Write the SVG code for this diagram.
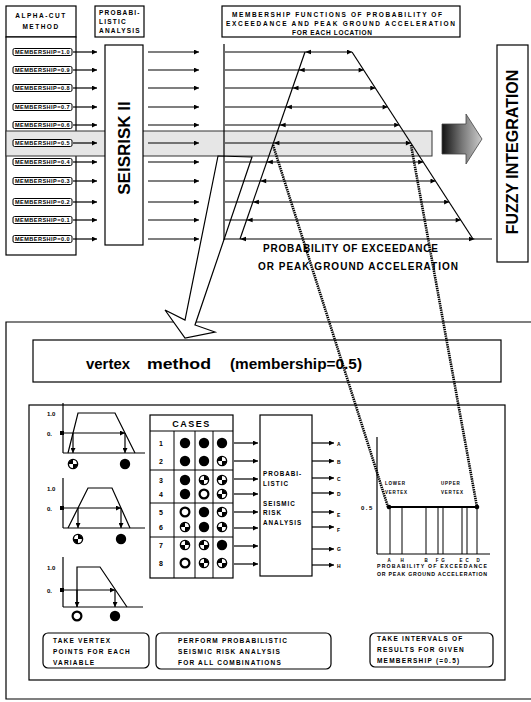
<svg xmlns="http://www.w3.org/2000/svg" width="531" height="702" viewBox="0 0 531 702">
<style>
text{font-family:"Liberation Sans",Arial,sans-serif;font-weight:bold;fill:#000}
.box{fill:#fff;stroke:#000;stroke-width:1.2}
.ln{stroke:#000;stroke-width:1.2;fill:none}
.thin{stroke:#000;stroke-width:1;fill:none}
.arr{stroke:#000;stroke-width:1.2;marker-end:url(#ah)}
.t65{font-size:6.5px;letter-spacing:1.2px}
.tiny{font-size:5px;letter-spacing:0.4px}
.item{fill:#fff;stroke:#000;stroke-width:1}
.dot{stroke:#000;stroke-width:2.6;stroke-dasharray:1.4 0.8;fill:none}
</style>
<defs>
<marker id="ah" viewBox="0 0 10 10" refX="10" refY="5" markerWidth="6" markerHeight="5" markerUnits="userSpaceOnUse" orient="auto"><path d="M0,0 L10,5 L0,10 z"/></marker>
<linearGradient id="fz" x1="0" y1="0" x2="1" y2="0"><stop offset="0" stop-color="#111"/><stop offset="0.5" stop-color="#777"/><stop offset="1" stop-color="#ccc"/></linearGradient>
<g id="cf"><circle r="5.2" fill="#000"/></g>
<g id="co"><circle r="4.4" fill="#fff" stroke="#000" stroke-width="2.2"/></g>
<g id="cp"><circle r="4.6" fill="#fff" stroke="#000" stroke-width="1.4"/><path d="M0,0 L4.6,0 A4.6,4.6 0 0 1 0,4.6 Z M0,0 L-4.6,0 A4.6,4.6 0 0 1 0,-4.6 Z"/></g>
<g id="cq"><circle r="4.6" fill="#fff" stroke="#000" stroke-width="1.4"/><path d="M0,0 L0,-4.6 A4.6,4.6 0 0 1 4.6,0 Z M0,0 L0,4.6 A4.6,4.6 0 0 1 -4.6,0 Z"/></g>
</defs>

<!-- top headers -->
<g id="alpha-cut">
<rect class="box" x="6" y="6" width="70" height="31"/>
<text x="41" y="18" text-anchor="middle" style="font-size:6.5px;letter-spacing:1.5px">ALPHA-CUT</text>
<text x="41" y="29" text-anchor="middle" style="font-size:6.5px;letter-spacing:1.5px">METHOD</text>
<rect class="box" x="6" y="37" width="70" height="218"/>
</g>
<g id="prob-analysis">
<rect class="box" x="95" y="6" width="49" height="31"/>
<text x="99" y="15" class="t65">PROBABI-</text>
<text x="99" y="24" class="t65">LISTIC</text>
<text x="99" y="33" class="t65">ANALYSIS</text>
</g>
<g id="membership-header">
<rect class="box" x="222" y="6" width="238" height="31"/>
<text x="232" y="16.5" style="font-size:6.5px" textLength="210" lengthAdjust="spacing">MEMBERSHIP FUNCTIONS OF PROBABILITY OF</text>
<text x="226" y="25.5" style="font-size:6.5px" textLength="229" lengthAdjust="spacing">EXCEEDANCE AND PEAK GROUND ACCELERATION</text>
<text x="292" y="34.5" style="font-size:6.5px" textLength="80" lengthAdjust="spacing">FOR EACH LOCATION</text>
</g>

<!-- highlighted band -->
<g id="band">
<rect x="6" y="131" width="426" height="25" fill="#e6e6e6" stroke="#333" stroke-width="1"/>
</g>

<g id="seisrisk">
<rect class="box" x="105" y="45" width="38" height="200"/>
<text transform="translate(130,148) rotate(-90)" text-anchor="middle" style="font-size:17px">SEISRISK II</text>
</g>

<g id="alpha-items">
<rect class="item" x="13" y="48.5" width="59" height="7" rx="1.5"/><text x="15" y="54" class="tiny" textLength="55" lengthAdjust="spacingAndGlyphs">MEMBERSHIP=1.0</text>
<rect class="item" x="13" y="66.5" width="59" height="7" rx="1.5"/><text x="15" y="72" class="tiny" textLength="55" lengthAdjust="spacingAndGlyphs">MEMBERSHIP=0.9</text>
<rect class="item" x="13" y="84.5" width="59" height="7" rx="1.5"/><text x="15" y="90" class="tiny" textLength="55" lengthAdjust="spacingAndGlyphs">MEMBERSHIP=0.8</text>
<rect class="item" x="13" y="103.5" width="59" height="7" rx="1.5"/><text x="15" y="109" class="tiny" textLength="55" lengthAdjust="spacingAndGlyphs">MEMBERSHIP=0.7</text>
<rect class="item" x="13" y="121.5" width="59" height="7" rx="1.5"/><text x="15" y="127" class="tiny" textLength="55" lengthAdjust="spacingAndGlyphs">MEMBERSHIP=0.6</text>
<rect class="item" x="13" y="139.5" width="59" height="7" rx="1.5"/><text x="15" y="145" class="tiny" textLength="55" lengthAdjust="spacingAndGlyphs">MEMBERSHIP=0.5</text>
<rect class="item" x="13" y="158.5" width="59" height="7" rx="1.5"/><text x="15" y="164" class="tiny" textLength="55" lengthAdjust="spacingAndGlyphs">MEMBERSHIP=0.4</text>
<rect class="item" x="13" y="177.5" width="59" height="7" rx="1.5"/><text x="15" y="183" class="tiny" textLength="55" lengthAdjust="spacingAndGlyphs">MEMBERSHIP=0.3</text>
<rect class="item" x="13" y="198.5" width="59" height="7" rx="1.5"/><text x="15" y="204" class="tiny" textLength="55" lengthAdjust="spacingAndGlyphs">MEMBERSHIP=0.2</text>
<rect class="item" x="13" y="216.5" width="59" height="7" rx="1.5"/><text x="15" y="222" class="tiny" textLength="55" lengthAdjust="spacingAndGlyphs">MEMBERSHIP=0.1</text>
<rect class="item" x="13" y="235.5" width="59" height="7" rx="1.5"/><text x="15" y="241" class="tiny" textLength="55" lengthAdjust="spacingAndGlyphs">MEMBERSHIP=0.0</text>
</g>

<g id="fuzzy">
<polygon points="442,124 466,124 466,114 482,139 466,164 466,154 442,154" fill="url(#fz)" stroke="#444" stroke-width="0.8"/>
<rect class="box" x="497" y="45" width="31" height="217"/>
<text transform="translate(518,152) rotate(-90)" text-anchor="middle" style="font-size:16px">FUZZY INTEGRATION</text>
</g>

<!-- lower frames -->
<g id="vertex-frame">
<path class="ln" d="M531,322 H6 V699 H531"/>
<rect class="box" x="33" y="340" width="468" height="42"/>
<text x="86" y="369" style="font-size:15px" textLength="44" lengthAdjust="spacingAndGlyphs">vertex</text>
<text x="147" y="369" style="font-size:15px" textLength="64" lengthAdjust="spacingAndGlyphs">method</text>
<text x="230" y="369" style="font-size:15px" textLength="132" lengthAdjust="spacingAndGlyphs">(membership=0.5)</text>
<rect class="box" x="29" y="405" width="476" height="275"/>
</g>

<g id="zoom-arrow">
<polygon points="218,156 185,320 165,310 185,338 215,332 195,325 252,157" fill="#fff" stroke="#000" stroke-width="1.2" stroke-linejoin="miter"/>
</g>

<!-- connectors -->
<g id="connectors">
<line class="arr" x1="73" y1="52" x2="97" y2="52"/>
<line class="arr" x1="73" y1="70" x2="97" y2="70"/>
<line class="arr" x1="73" y1="88" x2="97" y2="88"/>
<line class="arr" x1="73" y1="107" x2="97" y2="107"/>
<line class="arr" x1="73" y1="125" x2="97" y2="125"/>
<line class="arr" x1="73" y1="143" x2="97" y2="143"/>
<line class="arr" x1="73" y1="162" x2="97" y2="162"/>
<line class="arr" x1="73" y1="181" x2="97" y2="181"/>
<line class="arr" x1="73" y1="202" x2="97" y2="202"/>
<line class="arr" x1="73" y1="220" x2="97" y2="220"/>
<line class="arr" x1="73" y1="239" x2="97" y2="239"/>
<line class="arr" x1="148" y1="52" x2="199" y2="52"/>
<line class="arr" x1="148" y1="70" x2="199" y2="70"/>
<line class="arr" x1="148" y1="88" x2="199" y2="88"/>
<line class="arr" x1="148" y1="107" x2="199" y2="107"/>
<line class="arr" x1="148" y1="125" x2="199" y2="125"/>
<line class="arr" x1="148" y1="143" x2="199" y2="143"/>
<line class="arr" x1="148" y1="162" x2="199" y2="162"/>
<line class="arr" x1="148" y1="181" x2="199" y2="181"/>
<line class="arr" x1="148" y1="202" x2="199" y2="202"/>
<line class="arr" x1="148" y1="220" x2="199" y2="220"/>
<line class="arr" x1="148" y1="239" x2="199" y2="239"/>

<line class="arr" x1="234" y1="443" x2="258" y2="443"/>
<line class="arr" x1="234" y1="461" x2="258" y2="461"/>
<line class="arr" x1="234" y1="479" x2="258" y2="479"/>
<line class="arr" x1="234" y1="494" x2="258" y2="494"/>
<line class="arr" x1="234" y1="512" x2="258" y2="512"/>
<line class="arr" x1="234" y1="528" x2="258" y2="528"/>
<line class="arr" x1="234" y1="546" x2="258" y2="546"/>
<line class="arr" x1="234" y1="564" x2="258" y2="564"/>

<line class="arr" x1="312" y1="443" x2="334" y2="443"/>
<line class="arr" x1="312" y1="461" x2="334" y2="461"/>
<line class="arr" x1="312" y1="478" x2="334" y2="478"/>
<line class="arr" x1="312" y1="493" x2="334" y2="493"/>
<line class="arr" x1="312" y1="512" x2="334" y2="512"/>
<line class="arr" x1="312" y1="527" x2="334" y2="527"/>
<line class="arr" x1="312" y1="549" x2="334" y2="549"/>
<line class="arr" x1="312" y1="565" x2="334" y2="565"/>
</g>

<!-- top membership chart -->
<g id="membership-chart">
<line class="ln" x1="224" y1="44" x2="224" y2="240"/>
<line class="arr" x1="225" y1="52" x2="352" y2="52"/>
<line class="arr" x1="225" y1="70" x2="363.6" y2="70"/>
<line class="arr" x1="225" y1="88" x2="375.3" y2="88"/>
<line class="arr" x1="225" y1="107" x2="387.6" y2="107"/>
<line class="arr" x1="225" y1="125" x2="399.2" y2="125"/>
<line class="arr" x1="225" y1="143" x2="410.9" y2="143"/>
<line class="arr" x1="225" y1="162" x2="423.2" y2="162"/>
<line class="arr" x1="225" y1="181" x2="435.5" y2="181"/>
<line class="arr" x1="225" y1="202" x2="449.1" y2="202"/>
<line class="arr" x1="225" y1="220" x2="460.7" y2="220"/>
<line class="ln" x1="224" y1="239" x2="492" y2="239"/>
<path d="M469,236.8 L475,239 L469,241.2 Z"/>
<g fill="#000">
<path d="M305,52 l6,-2.2 v4.4 z"/>
<path d="M298.7,70 l6,-2.2 v4.4 z"/>
<path d="M292.5,88 l6,-2.2 v4.4 z"/>
<path d="M285.9,107 l6,-2.2 v4.4 z"/>
<path d="M279.6,125 l6,-2.2 v4.4 z"/>
<path d="M273.4,143 l6,-2.2 v4.4 z"/>
<path d="M266.8,162 l6,-2.2 v4.4 z"/>
<path d="M260.2,181 l6,-2.2 v4.4 z"/>
<path d="M252.9,202 l6,-2.2 v4.4 z"/>
<path d="M246.6,220 l6,-2.2 v4.4 z"/>
<path d="M240,239 l6,-2.2 v4.4 z"/>
</g>
<line class="ln" x1="305" y1="52" x2="240" y2="239"/>
<line class="ln" x1="352" y1="52" x2="473" y2="239"/>
<text x="263" y="252" style="font-size:10px" textLength="175" lengthAdjust="spacing">PROBABILITY OF EXCEEDANCE</text>
<text x="258" y="270" style="font-size:10px" textLength="200" lengthAdjust="spacing">OR PEAK GROUND ACCELERATION</text>
</g>

<!-- left small charts -->
<g id="var-chart-1">
<line class="ln" x1="63" y1="403" x2="63" y2="453"/>
<line class="ln" x1="63" y1="453" x2="145" y2="453"/>
<polyline class="ln" points="68,453 78,413 115,413 135,453"/>
<text x="47" y="416" style="font-size:6px">1.0</text>
<text x="47" y="436" style="font-size:6px">0.</text>
<rect x="60" y="431" width="4" height="4"/>
<line class="arr" x1="63" y1="433" x2="125" y2="433"/>
<line class="arr" x1="73" y1="433" x2="73" y2="453"/>
<line class="arr" x1="125" y1="433" x2="125" y2="453"/>
<use href="#cp" x="73" y="464"/>
<use href="#cf" x="125" y="464"/>
</g>
<g id="var-chart-2">
<line class="ln" x1="63" y1="478" x2="63" y2="528"/>
<line class="ln" x1="63" y1="528" x2="145" y2="528"/>
<polyline class="ln" points="68,528 88,488 112,488 130,528"/>
<text x="47" y="491" style="font-size:6px">1.0</text>
<text x="47" y="511" style="font-size:6px">0.</text>
<rect x="60" y="506" width="4" height="4"/>
<line class="arr" x1="63" y1="508" x2="121" y2="508"/>
<line class="arr" x1="78" y1="508" x2="78" y2="528"/>
<line class="arr" x1="121" y1="508" x2="121" y2="528"/>
<use href="#cq" x="78" y="539"/>
<use href="#cf" x="121" y="539"/>
</g>
<g id="var-chart-3">
<line class="ln" x1="63" y1="557" x2="63" y2="607"/>
<line class="ln" x1="63" y1="607" x2="143" y2="607"/>
<polyline class="ln" points="77,607 77,567 100,567 127,607"/>
<text x="47" y="570" style="font-size:6px">1.0</text>
<text x="47" y="593" style="font-size:6px">0.</text>
<rect x="60" y="588" width="4" height="4"/>
<line class="arr" x1="63" y1="590" x2="115" y2="590"/>
<line class="arr" x1="77" y1="590" x2="77" y2="607"/>
<line class="arr" x1="115" y1="590" x2="115" y2="607"/>
<use href="#co" x="77" y="616"/>
<use href="#cf" x="115" y="616"/>
</g>

<!-- cases table -->
<g id="cases">
<rect class="box" x="150" y="415" width="83" height="163"/>
<line class="thin" x1="150" y1="431" x2="233" y2="431"/>
<line class="thin" x1="150" y1="470" x2="233" y2="470"/>
<line class="thin" x1="150" y1="503" x2="233" y2="503"/>
<line class="thin" x1="150" y1="537" x2="233" y2="537"/>
<line class="thin" x1="174" y1="431" x2="174" y2="578"/>
<line class="thin" x1="195" y1="431" x2="195" y2="578"/>
<line class="thin" x1="213" y1="431" x2="213" y2="578"/>
<text x="191.5" y="427" text-anchor="middle" style="font-size:9px;letter-spacing:1.5px">CASES</text>
<g style="font-size:7px" text-anchor="middle">
<text x="161" y="446">1</text><text x="161" y="464">2</text>
<text x="161" y="483">3</text><text x="161" y="497">4</text>
<text x="161" y="515">5</text><text x="161" y="530">6</text>
<text x="161" y="548">7</text><text x="161" y="566">8</text>
</g>
<use href="#cf" x="185" y="443"/><use href="#cf" x="204" y="443"/><use href="#cf" x="222" y="443"/>
<use href="#cf" x="185" y="461"/><use href="#cf" x="204" y="461"/><use href="#cp" x="222" y="461"/>
<use href="#cf" x="185" y="480"/><use href="#cq" x="204" y="480"/><use href="#cp" x="222" y="480"/>
<use href="#cf" x="185" y="494"/><use href="#co" x="204" y="494"/><use href="#cq" x="222" y="494"/>
<use href="#co" x="185" y="512"/><use href="#cf" x="204" y="512"/><use href="#cp" x="222" y="512"/>
<use href="#cp" x="185" y="527"/><use href="#cf" x="204" y="527"/><use href="#cq" x="222" y="527"/>
<use href="#cq" x="185" y="545"/><use href="#cp" x="204" y="545"/><use href="#cf" x="222" y="545"/>
<use href="#co" x="185" y="563"/><use href="#cq" x="204" y="563"/><use href="#cp" x="222" y="563"/>
</g>

<g id="psra">
<rect class="box" x="260" y="415" width="52" height="161"/>
<g style="font-size:6.3px;letter-spacing:1px">
<text x="263" y="476">PROBABI-</text>
<text x="263" y="486">LISTIC</text>
<text x="263" y="506">SEISMIC</text>
<text x="263" y="515">RISK</text>
<text x="263" y="525">ANALYSIS</text>
</g>
<g style="font-size:5px">
<text x="337" y="446">A</text><text x="337" y="464">B</text>
<text x="337" y="481">C</text><text x="337" y="496">D</text>
<text x="337" y="517">E</text><text x="337" y="532">F</text>
<text x="337" y="551">G</text><text x="337" y="568">H</text>
</g>
</g>

<g id="result-chart">
<line class="ln" x1="377" y1="437" x2="377" y2="554"/>
<line class="ln" x1="377" y1="554" x2="490" y2="554"/>
<line stroke="#000" stroke-width="1.8" x1="388" y1="507" x2="478" y2="507"/>
<g class="thin">
<line x1="390" y1="507" x2="390" y2="554"/>
<line x1="402" y1="507" x2="402" y2="554"/>
<line x1="426" y1="507" x2="426" y2="554"/>
<line x1="438" y1="507" x2="438" y2="554"/>
<line x1="443" y1="507" x2="443" y2="554"/>
<line x1="462" y1="507" x2="462" y2="554"/>
<line x1="467" y1="507" x2="467" y2="554"/>
<line x1="477" y1="507" x2="477" y2="554"/>
</g>
<circle cx="389" cy="507" r="2.3"/>
<circle cx="477" cy="507" r="2.3"/>
<text x="361" y="510" style="font-size:6px;letter-spacing:1.5px">0.5</text>
<g style="font-size:4.5px" text-anchor="middle">
<text x="389" y="562">A</text><text x="402" y="562">H</text>
<text x="426" y="562">B</text><text x="437" y="562">F</text>
<text x="443" y="562">G</text><text x="461" y="562">E</text>
<text x="467" y="562">C</text><text x="478" y="562">D</text>
</g>
<text x="385" y="485" style="font-size:4.5px;letter-spacing:0.8px">LOWER</text>
<text x="385" y="494" style="font-size:4.5px;letter-spacing:0.8px">VERTEX</text>
<text x="441" y="485" style="font-size:4.5px;letter-spacing:0.8px">UPPER</text>
<text x="441" y="494" style="font-size:4.5px;letter-spacing:0.8px">VERTEX</text>
<text x="377" y="568" style="font-size:5.2px" textLength="110" lengthAdjust="spacing">PROBABILITY OF EXCEEDANCE</text>
<text x="377" y="576" style="font-size:5.2px" textLength="110" lengthAdjust="spacing">OR PEAK GROUND ACCELERATION</text>
</g>

<!-- step boxes -->
<g id="step-1">
<rect class="box" x="43" y="633" width="106" height="35" rx="5"/>
<text x="53" y="643" class="t65">TAKE VERTEX</text>
<text x="53" y="654" class="t65">POINTS FOR EACH</text>
<text x="53" y="665" class="t65">VARIABLE</text>
</g>
<g id="step-2">
<rect class="box" x="156" y="633" width="175" height="36" rx="5"/>
<text x="178" y="643" class="t65">PERFORM PROBABILISTIC</text>
<text x="178" y="654" class="t65">SEISMIC RISK ANALYSIS</text>
<text x="178" y="665" class="t65">FOR ALL COMBINATIONS</text>
</g>
<g id="step-3">
<rect class="box" x="370" y="633" width="123" height="34" rx="5"/>
<text x="377" y="641" class="t65">TAKE INTERVALS OF</text>
<text x="377" y="652" class="t65">RESULTS FOR GIVEN</text>
<text x="377" y="663" class="t65">MEMBERSHIP (=0.5)</text>
</g>

<!-- dotted vertex connectors -->
<g id="vertex-connectors">
<line class="dot" x1="273" y1="145" x2="388" y2="507"/>
<line class="dot" x1="411" y1="145" x2="477" y2="507"/>
</g>
</svg>
